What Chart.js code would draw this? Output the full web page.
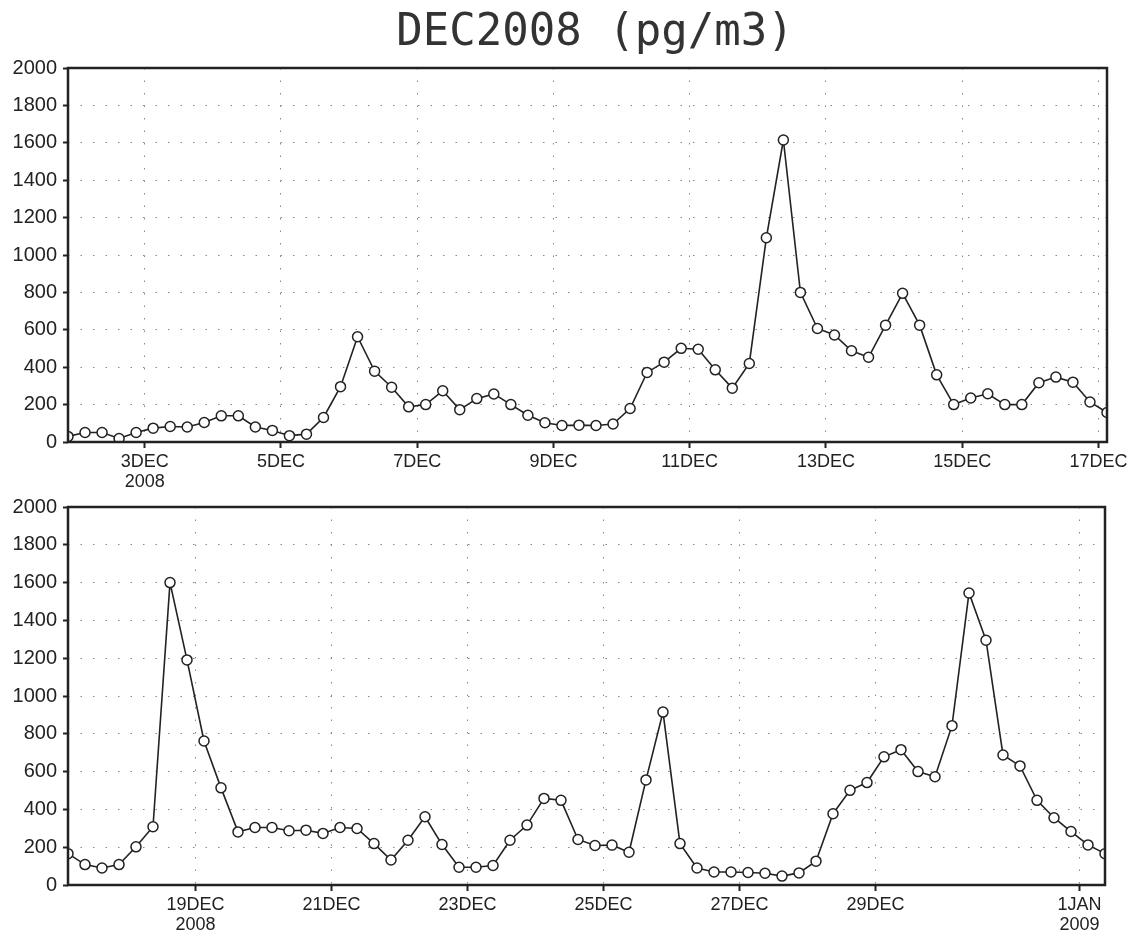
<!DOCTYPE html>
<html>
<head>
<meta charset="utf-8">
<title>DEC2008 (pg/m3)</title>
<script src="https://cdn.jsdelivr.net/npm/chart.js@4.4.1/dist/chart.umd.min.js"></script>
<style>
  body { margin: 0; background: #fff; width: 1141px; height: 940px; position: relative; overflow: hidden; }
  #title { position: absolute; left: 0; top: 4px; width: 1190px; text-align: center;
           font-family: "DejaVu Sans Mono", monospace; font-size: 44px; color: #333; z-index: 2; }
  .panel { position: absolute; left: 0; width: 1141px; }
  #topPanel { top: 40px; height: 460px; }
  #bottomPanel { top: 480px; height: 460px; }
</style>
</head>
<body>
<div id="title">DEC2008 (pg/m3)</div>
<div class="panel" id="topPanel"><canvas id="topChart"></canvas></div>
<div class="panel" id="bottomPanel"><canvas id="bottomChart"></canvas></div>
<script>
// 6-hourly concentrations, x measured in days of December (32 = 1 JAN)
var stepDays = 0.25;
var topStart = 1.875;      // 1DEC 21:00
var bottomStart = 17.125;  // 17DEC 03:00

var topValues = [
  30, 51, 51, 19, 51, 74, 83, 80, 104, 140,
  140, 80, 62, 34, 42, 131, 296, 563, 379, 293,
  188, 200, 274, 173, 232, 257, 200, 143, 103, 88,
  90, 88, 96, 179, 372, 427, 501, 496, 386, 288,
  420, 1092, 1615, 800, 607, 572, 488, 453, 625, 795,
  625, 359, 200, 235, 258, 200, 200, 317, 347, 320,
  214, 158
];

var bottomValues = [
  166, 108, 90, 108, 202, 308, 1600, 1191, 762, 514,
  281, 304, 304, 287, 290, 273, 304, 299, 219, 132,
  237, 361, 214, 94, 94, 103, 237, 317, 458, 448,
  241, 209, 211, 173, 556, 915, 219, 90, 69, 69,
  66, 62, 47, 64, 126, 377, 501, 542, 678, 716,
  600, 573, 843, 1545, 1295, 688, 630, 448, 356, 283,
  212, 166
];

var yTicks = [0, 200, 400, 600, 800, 1000, 1200, 1400, 1600, 1800, 2000];

var topTickDays = [3, 5, 7, 9, 11, 13, 15, 17];
var topTickLabels = [['3DEC', '2008'], '5DEC', '7DEC', '9DEC', '11DEC', '13DEC', '15DEC', '17DEC'];

var bottomTickDays = [19, 21, 23, 25, 27, 29, 32];
var bottomTickLabels = [['19DEC', '2008'], '21DEC', '23DEC', '25DEC', '27DEC', '29DEC', ['1JAN', '2009']];

// box round the plot area
var framePlugin = {
  id: 'frame',
  afterDraw: function(chart) {
    var a = chart.chartArea;
    var ctx = chart.ctx;
    ctx.save();
    ctx.strokeStyle = '#222';
    ctx.lineWidth = 2.5;
    ctx.strokeRect(a.left, a.top, a.right - a.left, a.bottom - a.top);
    ctx.restore();
  }
};

function makePanel(id, start, values, tickDays, tickLabels, padTop, padRight, xHeight) {
  var points = values.map(function(v, i) {
    return { x: start + i * stepDays, y: v };
  });

  return new Chart(document.getElementById(id), {
    type: 'line',
    data: {
      datasets: [{
        data: points,
        borderColor: '#222',
        borderWidth: 1.6,
        pointRadius: 5,
        pointBorderWidth: 1.5,
        pointBackgroundColor: '#fff',
        pointBorderColor: '#222',
        tension: 0
      }]
    },
    options: {
      animation: false,
      responsive: true,
      maintainAspectRatio: false,
      layout: { padding: { top: padTop, right: padRight, left: 0, bottom: 0 } },
      plugins: { legend: { display: false }, tooltip: { enabled: false } },
      scales: {
        x: {
          type: 'linear',
          min: start,
          max: start + (values.length - 1) * stepDays,
          afterBuildTicks: function(scale) {
            scale.ticks = tickDays.map(function(d) { return { value: d }; });
          },
          afterFit: function(scale) { scale.height = xHeight; },
          ticks: {
            autoSkip: false,
            maxRotation: 0,
            padding: 4,
            color: '#222',
            font: { family: 'Liberation Sans', size: 18, lineHeight: 1.1 },
            callback: function(value, index) { return tickLabels[index]; }
          },
          grid: { color: '#888', tickColor: '#222', tickLength: 6, lineWidth: 1, tickWidth: 2 },
          border: { display: false, dash: [1.5, 11] }
        },
        y: {
          min: 0,
          max: 2000,
          afterBuildTicks: function(scale) {
            scale.ticks = yTicks.map(function(v) { return { value: v }; });
          },
          afterFit: function(scale) { scale.width = 68; },
          ticks: {
            padding: 6,
            color: '#222',
            font: { family: 'Liberation Sans', size: 20 },
            callback: function(value) { return String(value); }
          },
          grid: { color: '#888', tickColor: '#222', tickLength: 5, lineWidth: 1, tickWidth: 2 },
          border: { display: false, dash: [1.5, 11] }
        }
      }
    },
    plugins: [framePlugin]
  });
}

makePanel('topChart', topStart, topValues, topTickDays, topTickLabels, 28, 34, 58);
makePanel('bottomChart', bottomStart, bottomValues, bottomTickDays, bottomTickLabels, 27, 36, 55);
</script>
</body>
</html>
